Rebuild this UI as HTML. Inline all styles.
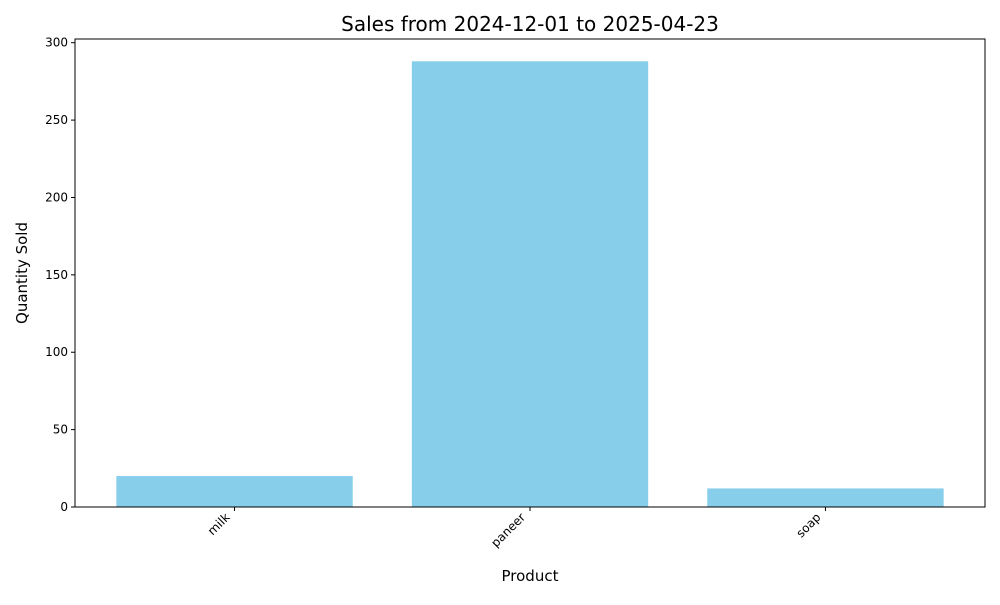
<!DOCTYPE html>
<html><head><meta charset="utf-8"><style>
body{margin:0;background:#fff;font-family:"Liberation Sans","DejaVu Sans",sans-serif;}
svg text{font-family:"DejaVu Sans","Liberation Sans",sans-serif;}
</style></head><body>
<svg id="chart" width="1000" height="600" viewBox="0 0 1000 600" xmlns="http://www.w3.org/2000/svg">
<text x="530" y="31" text-anchor="middle" font-size="20" fill="#000">Sales from 2024-12-01 to 2025-04-23</text>
<g id="bars"></g>
<g id="yticks"></g>
<g id="xticks"></g>
<rect x="75" y="39" width="910" height="468" fill="none" stroke="#000" stroke-width="1"/>
<text x="530" y="581" text-anchor="middle" font-size="15">Product</text>
<text transform="translate(27,273) rotate(-90)" text-anchor="middle" font-size="15">Quantity Sold</text>
</svg>
<script>
const categories = ["milk", "paneer", "soap"];
const values = [20, 288, 12];
const yTicks = [0, 50, 100, 150, 200, 250, 300];

const NS = "http://www.w3.org/2000/svg";
const L = 75, R = 985, T = 39, B = 507;
const yMax = Math.max(...values) * 1.05;
const y = v => B - v / yMax * (B - T);
const n = categories.length;
const xMin = -0.4 - 0.05 * (n - 1 + 0.8), xMaxD = n - 1 + 0.4 + 0.05 * (n - 1 + 0.8);
const x = i => L + (i - xMin) / (xMaxD - xMin) * (R - L);
const bw = 0.8 * (x(1) - x(0));

const gb = document.getElementById("bars");
values.forEach((v, i) => {
  const r = document.createElementNS(NS, "rect");
  r.setAttribute("x", x(i) - bw / 2);
  r.setAttribute("y", y(v));
  r.setAttribute("width", bw);
  r.setAttribute("height", B - y(v));
  r.setAttribute("fill", "#87ceeb");
  
  
  gb.appendChild(r);
});

const gy = document.getElementById("yticks");
yTicks.forEach(t => {
  const l = document.createElementNS(NS, "line");
  l.setAttribute("x1", L - 4); l.setAttribute("x2", L);
  l.setAttribute("y1", y(t)); l.setAttribute("y2", y(t));
  l.setAttribute("stroke", "#000");
  
  
  gy.appendChild(l);
  const tx = document.createElementNS(NS, "text");
  tx.setAttribute("x", L - 7); tx.setAttribute("y", y(t) + 4);
  tx.setAttribute("text-anchor", "end"); tx.setAttribute("font-size", "12");
  tx.textContent = t;
  
  
  gy.appendChild(tx);
});

const gx = document.getElementById("xticks");
categories.forEach((c, i) => {
  const l = document.createElementNS(NS, "line");
  l.setAttribute("x1", x(i)); l.setAttribute("x2", x(i));
  l.setAttribute("y1", B); l.setAttribute("y2", B + 4);
  l.setAttribute("stroke", "#000");
  
  
  gx.appendChild(l);
  const tx = document.createElementNS(NS, "text");
  tx.setAttribute("transform", `translate(${x(i) - 4},${B + 11}) rotate(-45)`);
  tx.setAttribute("text-anchor", "end"); tx.setAttribute("font-size", "12");
  tx.textContent = c;
  
  
  gx.appendChild(tx);
});
</script>
</body></html>
